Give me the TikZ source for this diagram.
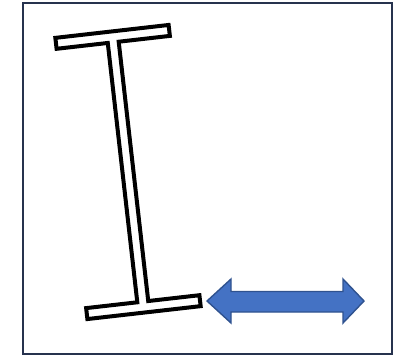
\documentclass[tikz,border=0pt]{standalone}
\usepackage{tikz}

\definecolor{framecol}{RGB}{38,50,78}
\definecolor{arrowfill}{RGB}{68,114,196}
\definecolor{arrowline}{RGB}{47,82,143}

\begin{document}
\begin{tikzpicture}[x=1pt, y=-1pt,
    frame/.style={draw=framecol, line width=1.3pt},
    beam/.style={draw=black, line width=4pt, line join=miter, fill=white},
    motion/.style={draw=arrowline, line width=1.4pt, fill=arrowfill, line join=miter}]
    \useasboundingbox (0,0) rectangle (403,357);

    % Frame
    \draw[frame] (23,3) rectangle (392,354);

    % I-beam (tilted)
    \begin{scope}[shift={(128,172)}, rotate=6.5]
        \draw[beam] (-5.5,-130.5) -- (-57,-130.5) -- (-57,-141.5) -- (57,-141.5)
            -- (57,-130.5) -- (5.5,-130.5) -- (5.5,130.5) -- (57,130.5)
            -- (57,141.5) -- (-57,141.5) -- (-57,130.5) -- (-5.5,130.5) -- cycle;
    \end{scope}

    % Arrow
    \draw[motion] (207,301) -- (231,279) -- (231,291.5) -- (343,291.5) -- (343,279)
        -- (364,301) -- (343,323) -- (343,312) -- (231,312) -- (231,323) -- cycle;
\end{tikzpicture}
\end{document}
